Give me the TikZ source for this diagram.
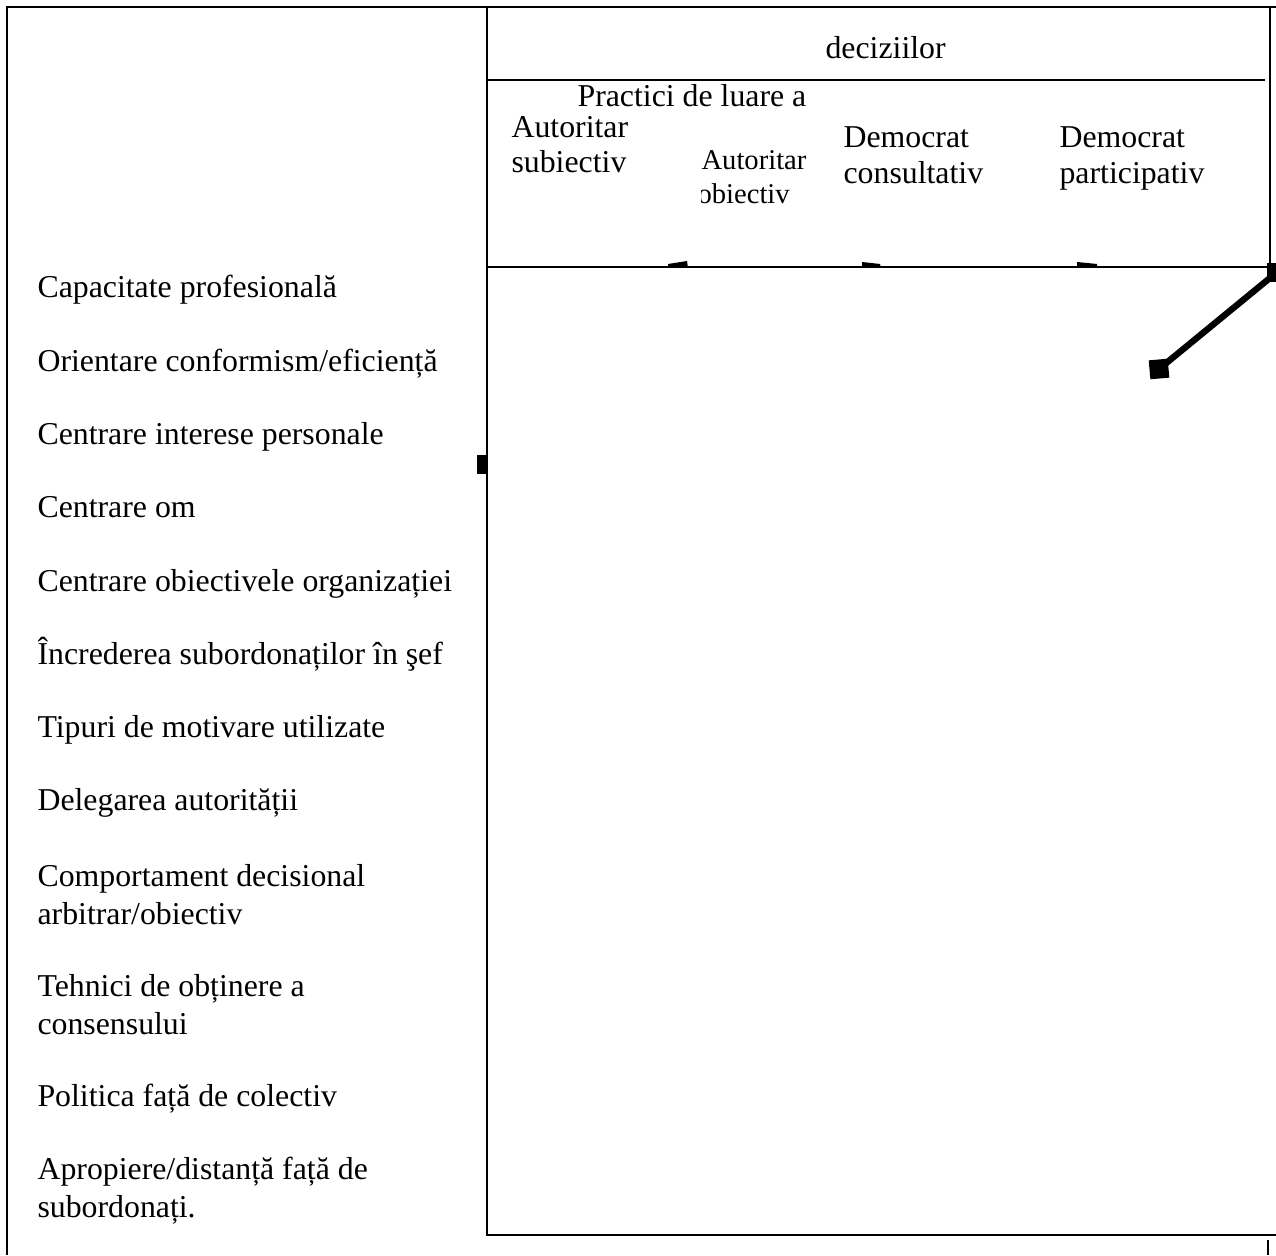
\documentclass[tikz,border=0pt]{standalone}
\usepackage{fontspec}
\setmainfont{Liberation Serif}
\begin{document}
\begin{tikzpicture}[x=0.36pt,y=-0.36pt,
  frame/.style={line width=0.8pt,black},
  rule/.style={line width=0.6pt,black},
  lbl/.style={anchor=base west,inner sep=0pt,font=\fontsize{11.45}{13.7}\selectfont},
  lblsmall/.style={anchor=base west,inner sep=0pt,font=\fontsize{10.3}{12}\selectfont},
  blob/.style={fill=black,draw=none},
  sq/.style={fill=black,draw=none,minimum size=19*0.36pt,inner sep=0pt}]
\useasboundingbox (0,0) rectangle (1276,1255);
\clip (0,0) rectangle (1276,1255);

% outer frame and table rules
\draw[frame] (7,1255) -- (7,7) -- (1276,7);
\draw[rule] (487,7) -- (487,1235) -- (1276,1235);
\draw[rule] (487,80) -- (1265,80);
\draw[rule] (487,267) -- (1270,267);
\draw[rule] (1270,7) -- (1270,267);
\draw[rule] (1268,1240) -- (1268,1255);

% header
\node[lbl] (h1) at (577,107) {Practici de luare a};
\node[lbl] (h2) at (825,59) {deciziilor};

\node[lbl] (c1a) at (511,138) {Autoritar};
\node[lbl] (c1b) at (511,173) {subiectiv};
\begin{scope}
  \clip (701,140) rectangle (830,215);
  \node[lblsmall] (c2a) at (701,170) {Autoritar};
  \node[lblsmall] (c2b) at (697,204) {obiectiv};
\end{scope}
\node[lbl] (c3a) at (843,148) {Democrat};
\node[lbl] (c3b) at (843,184) {consultativ};
\node[lbl] (c4a) at (1059,148) {Democrat};
\node[lbl] (c4b) at (1059,184) {participativ};

% small marks on the header rule
\fill[blob] (668,264) -- (687,261) -- (688,268) -- (668,268) -- cycle;
\fill[blob] (862,262) -- (880,264) -- (881,268) -- (862,268) -- cycle;
\fill[blob] (1077,262) -- (1097,264) -- (1097,268) -- (1077,268) -- cycle;
\fill[blob] (477,455) rectangle (486,474);

% diagonal connector with square ends
\node[sq] (sqA) at (1276,273) {};
\node[sq,rotate=5] (sqB) at (1159,369) {};
\draw[line width=2.3pt] (sqA.center) -- (sqB.center);

% row labels
\node[lbl] (r1) at (37,298) {Capacitate profesională};
\node[lbl] (r2) at (37,371) {Orientare conformism/eficiență};
\node[lbl] (r3) at (37,444) {Centrare interese personale};
\node[lbl] (r4) at (37,517) {Centrare om};
\node[lbl] (r5) at (37,591) {Centrare obiectivele organizației};
\node[lbl] (r6) at (37,664) {Încrederea subordonaților în şef};
\node[lbl] (r7) at (37,737) {Tipuri de motivare utilizate};
\node[lbl] (r8) at (37,810) {Delegarea autorității};
\node[lbl] (r9a) at (37,886) {Comportament decisional};
\node[lbl] (r9b) at (37,924) {arbitrar/obiectiv};
\node[lbl] (r10a) at (37,996) {Tehnici de obținere a};
\node[lbl] (r10b) at (37,1034) {consensului};
\node[lbl] (r11) at (37,1106) {Politica față de colectiv};
\node[lbl] (r12a) at (37,1179) {Apropiere/distanță față de};
\node[lbl] (r12b) at (37,1217) {subordonați.};
\end{tikzpicture}
\end{document}
